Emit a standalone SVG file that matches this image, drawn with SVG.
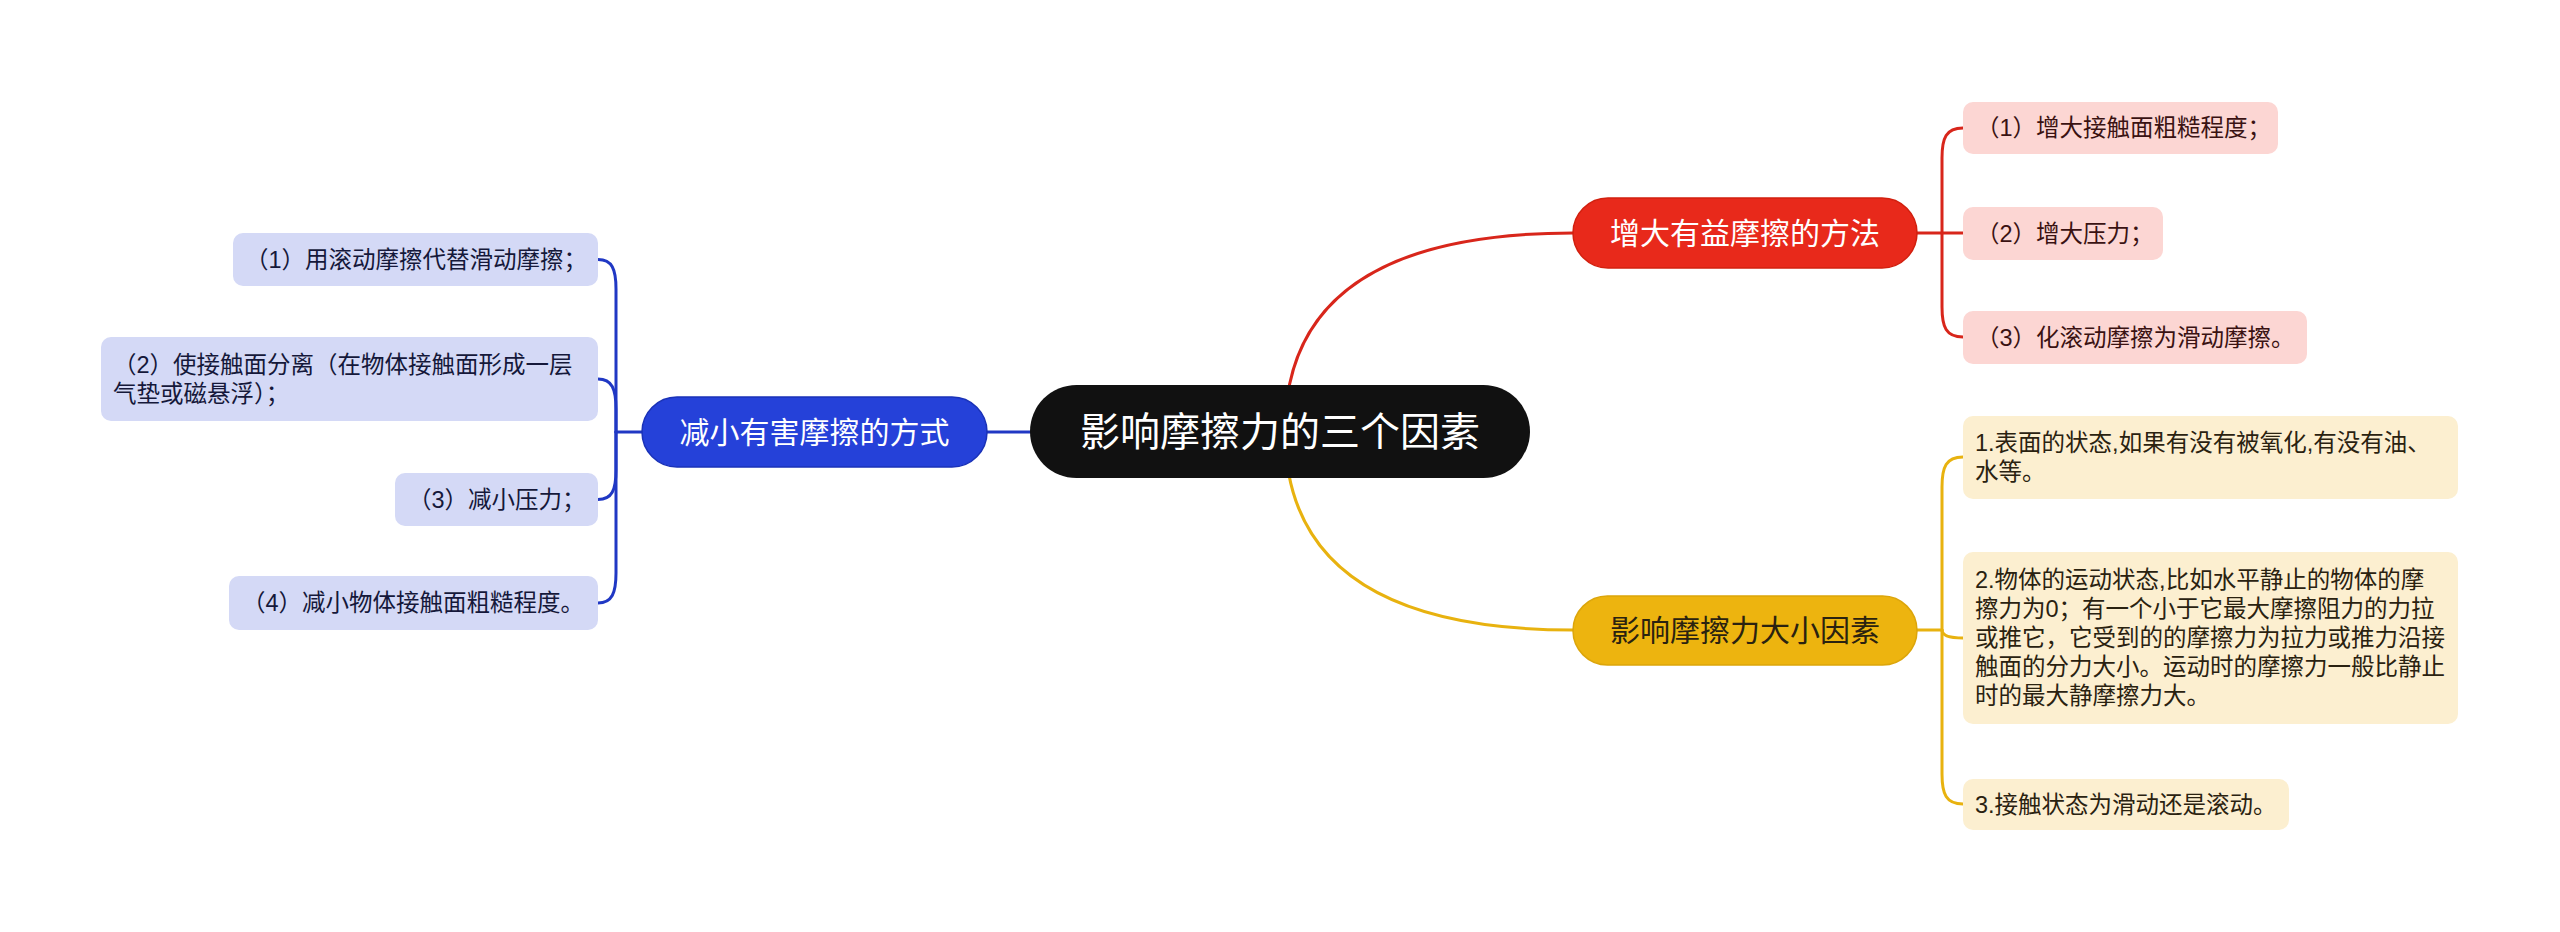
<svg xmlns="http://www.w3.org/2000/svg" width="2560" height="932" viewBox="0 0 2560 932">
<style>
text { font-family: "Liberation Sans", "Noto Sans CJK SC", sans-serif; }
.conn { fill: none; stroke-width: 3; stroke-linecap: round; }
.cr { stroke: #D8261B; }
.cy { stroke: #E8B20F; }
.cb { stroke: #2038C4; }
.leaf { font-size: 23.5px; }
.lr { fill: #FCD6D3; }
.ly { fill: #FCEFD0; }
.lb { fill: #D4D9F6; }
.tr { fill: #3A1212; }
.ty { fill: #2A2210; }
.tb { fill: #15183A; }
.main { font-size: 30px; text-anchor: middle; }
</style>
<rect width="2560" height="932" fill="#FFFFFF"/>
<g id="connectors">
  <path class="conn cr" d="M 1285 431 Q 1285 233 1573 233"/>
  <path class="conn cy" d="M 1285 431 Q 1285 630 1573 630"/>
  <path class="conn cb" d="M 1030 432 L 987 432"/>
  <path class="conn cr" d="M 1917 233 L 1942 233"/>
  <path class="conn cr" d="M 1942 233 L 1942 158 C 1942 138 1946 128 1963 128"/>
  <path class="conn cr" d="M 1942 233 L 1963 233"/>
  <path class="conn cr" d="M 1942 233 L 1942 307 C 1942 327 1946 337 1963 337"/>
  <path class="conn cy" d="M 1917 630 L 1942 630"/>
  <path class="conn cy" d="M 1942 630 L 1942 487 C 1942 467 1946 457 1963 457"/>
  <path class="conn cy" d="M 1942 630 Q 1942 638 1963 638"/>
  <path class="conn cy" d="M 1942 630 L 1942 774 C 1942 794 1946 804 1963 804"/>
  <path class="conn cb" d="M 642 432 L 616 432"/>
  <path class="conn cb" d="M 616 432 L 616 289 C 616 269 612 259.5 598 259.5"/>
  <path class="conn cb" d="M 616 432 L 616 409 C 616 389 612 379 598 379"/>
  <path class="conn cb" d="M 616 432 L 616 470 C 616 490 612 499.5 598 499.5"/>
  <path class="conn cb" d="M 616 432 L 616 573 C 616 593 612 603 598 603"/>
</g>
<g id="root">
  <rect x="1030" y="385" width="500" height="93" rx="46.5" fill="#111111"/>
  <text x="1280" y="432" font-size="40" fill="#FFFFFF" text-anchor="middle" dominant-baseline="central">影响摩擦力的三个因素</text>
</g>
<g id="main-red">
  <rect x="1573" y="198" width="344" height="70" rx="35" fill="#E8291B" stroke="#D2200F" stroke-width="1.5"/>
  <text class="main" x="1745" y="233" fill="#FFFFFF" dominant-baseline="central">增大有益摩擦的方法</text>
</g>
<g id="main-yellow">
  <rect x="1573" y="596" width="344" height="69" rx="34.5" fill="#EDB40F" stroke="#DCA50A" stroke-width="1.5"/>
  <text class="main" x="1745" y="630.5" fill="#2A2210" dominant-baseline="central">影响摩擦力大小因素</text>
</g>
<g id="main-blue">
  <rect x="642" y="397" width="345" height="70" rx="35" fill="#2541D9" stroke="#1A32B8" stroke-width="1.5"/>
  <text class="main" x="814.5" y="432" fill="#FFFFFF" dominant-baseline="central">减小有害摩擦的方式</text>
</g>
<g id="red-1">
  <rect class="lr" x="1963" y="102" width="315" height="52" rx="10"/>
  <text class="leaf tr" x="1976" y="128" dominant-baseline="central">（1）增大接触面粗糙程度；</text>
</g>
<g id="red-2">
  <rect class="lr" x="1963" y="207" width="200" height="53" rx="10"/>
  <text class="leaf tr" x="1976" y="233.5" dominant-baseline="central">（2）增大压力；</text>
</g>
<g id="red-3">
  <rect class="lr" x="1963" y="311" width="344" height="53" rx="10"/>
  <text class="leaf tr" x="1976" y="337.5" dominant-baseline="central">（3）化滚动摩擦为滑动摩擦。</text>
</g>
<g id="yellow-1">
  <rect class="ly" x="1963" y="416" width="495" height="83" rx="10"/>
  <text class="leaf ty" x="1975" y="443" dominant-baseline="central">1.表面的状态,如果有没有被氧化,有没有油、</text>
  <text class="leaf ty" x="1975" y="472" dominant-baseline="central">水等。</text>
</g>
<g id="yellow-2">
  <rect class="ly" x="1963" y="552" width="495" height="172" rx="10"/>
  <text class="leaf ty" x="1975" y="580" dominant-baseline="central">2.物体的运动状态,比如水平静止的物体的摩</text>
  <text class="leaf ty" x="1975" y="609" dominant-baseline="central">擦力为0；有一个小于它最大摩擦阻力的力拉</text>
  <text class="leaf ty" x="1975" y="638" dominant-baseline="central">或推它，它受到的的摩擦力为拉力或推力沿接</text>
  <text class="leaf ty" x="1975" y="667" dominant-baseline="central">触面的分力大小。运动时的摩擦力一般比静止</text>
  <text class="leaf ty" x="1975" y="696" dominant-baseline="central">时的最大静摩擦力大。</text>
</g>
<g id="yellow-3">
  <rect class="ly" x="1963" y="779" width="326" height="51" rx="10"/>
  <text class="leaf ty" x="1975" y="804.5" dominant-baseline="central">3.接触状态为滑动还是滚动。</text>
</g>
<g id="blue-1">
  <rect class="lb" x="233" y="233" width="365" height="53" rx="10"/>
  <text class="leaf tb" x="245" y="259.5" dominant-baseline="central">（1）用滚动摩擦代替滑动摩擦；</text>
</g>
<g id="blue-2">
  <rect class="lb" x="101" y="337" width="497" height="84" rx="10"/>
  <text class="leaf tb" x="113" y="364.5" dominant-baseline="central">（2）使接触面分离（在物体接触面形成一层</text>
  <text class="leaf tb" x="113" y="393.5" dominant-baseline="central">气垫或磁悬浮）；</text>
</g>
<g id="blue-3">
  <rect class="lb" x="395" y="473" width="203" height="53" rx="10"/>
  <text class="leaf tb" x="408" y="499.5" dominant-baseline="central">（3）减小压力；</text>
</g>
<g id="blue-4">
  <rect class="lb" x="229" y="576" width="369" height="54" rx="10"/>
  <text class="leaf tb" x="242" y="603" dominant-baseline="central">（4）减小物体接触面粗糙程度。</text>
</g>
</svg>
